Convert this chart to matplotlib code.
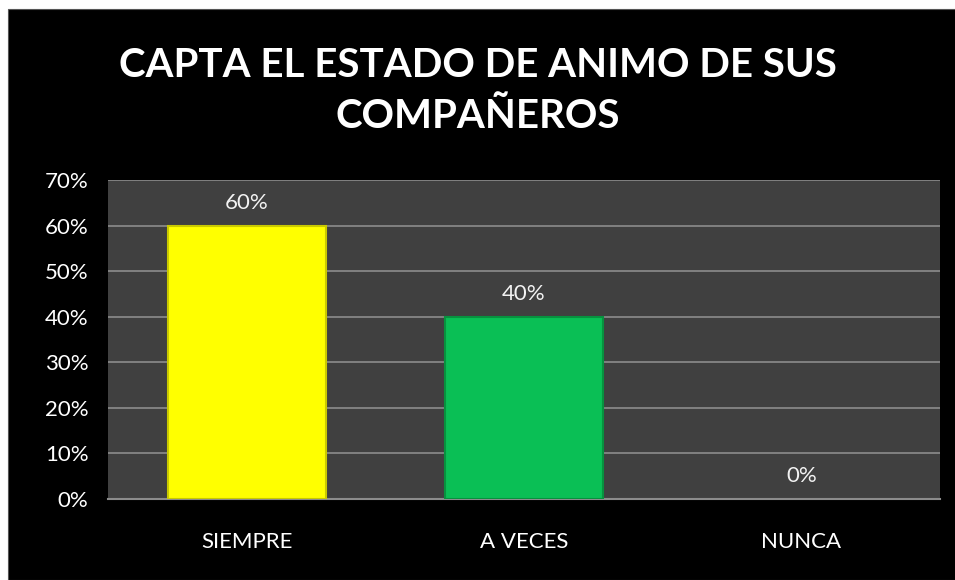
import matplotlib.pyplot as plt
import matplotlib.patches as patches
from matplotlib.ticker import FuncFormatter

categories = ['SIEMPRE', 'A VECES', 'NUNCA']
values = [60, 40, 0]
colors = ['#ffff00', '#0abf55', '#0abf55']
edges = ['#c9c900', '#07923f', '#07923f']

title = 'CAPTA EL ESTADO DE ANIMO DE SUS\nCOMPAÑEROS'
yticks = list(range(0, 80, 10))

plt.rcParams['font.family'] = ['Lato', 'DejaVu Sans']

fig = plt.figure(figsize=(9.55, 5.8), dpi=100)
fig.patch.set_facecolor('white')
# black slide background with a thin white margin top-left
fig.patches.append(patches.Rectangle((8 / 955, 0), 1, 1 - 9 / 580, transform=fig.transFigure,
                                     facecolor='black', edgecolor='#555555', linewidth=0.8, zorder=-5))

ax = fig.add_axes([108 / 955, 1 - 499 / 580, (940 - 108) / 955, (499 - 180) / 580])
ax.set_facecolor('#404040')

x = range(len(categories))
widths = [1.5 if v > 0 else 0 for v in values]
bars = ax.bar(x, values, width=0.57, color=colors, edgecolor=edges, linewidth=widths, zorder=3)
for rect, v in zip(bars, values):
    ax.text(rect.get_x() + rect.get_width() / 2, v + 2.8, f'{v}%', ha='center', va='bottom',
            color='#f2f2f2', fontsize=16)

ax.set_xlim(-0.5, 2.5)
ax.set_ylim(0, 70)
ax.set_yticks(yticks)
ax.yaxis.set_major_formatter(FuncFormatter(lambda v, p: f'{int(v)}%'))
ax.set_xticks(list(x))
ax.set_xticklabels(categories)
ax.grid(axis='y', color='#8c8c8c', linewidth=1.2, zorder=1)
ax.tick_params(axis='both', length=0, colors='white', labelsize=16)
ax.tick_params(axis='x', pad=24)
ax.tick_params(axis='y', pad=14)
for side in ['top', 'left', 'right']:
    ax.spines[side].set_visible(False)
ax.spines['bottom'].set_color('#8c8c8c')
ax.spines['bottom'].set_linewidth(1.5)

fig.text(0.5, 1 - 91 / 580, title, ha='center', va='center', color='white',
         fontsize=29, fontweight='bold', linespacing=1.45)

fig.savefig('out.png', dpi=100, facecolor=fig.get_facecolor())
